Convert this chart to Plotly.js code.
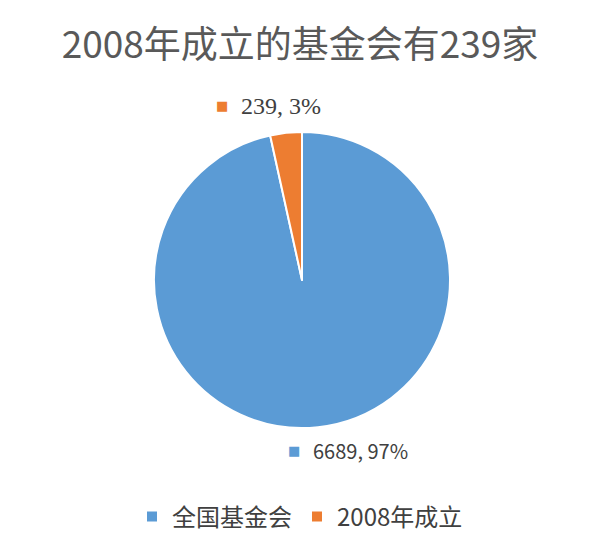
<!DOCTYPE html>
<html>
<head>
<meta charset="utf-8">
<script src="https://cdn.plot.ly/plotly-3.0.1.min.js"></script>
<style>
  html, body { margin: 0; padding: 0; background: #fff; }
  #chart { width: 600px; height: 547px; }
</style>
</head>
<body>
<div id="chart"></div>
<script>
// pie data
const categories = ['全国基金会', '2008年成立'];
const counts = [6689, 239];
const colors = ['#5B9BD5', '#ED7D31'];

const total = counts.reduce((a, b) => a + b, 0);
const labelText = counts.map(v => `${v}, ${Math.round(v / total * 100)}%`);

const trace = {
    type: 'pie',
    labels: categories,
    values: counts,
    sort: false,
    direction: 'clockwise',
    rotation: 0,
    textinfo: 'none',
    hoverinfo: 'label+value+percent',
    marker: {
        colors: colors,
        line: { color: '#ffffff', width: 2 }
    },
    domain: { x: [154 / 600, 450 / 600], y: [119 / 547, 415 / 547] }
};

// label annotation: little coloured square + text
function sliceLabel(i, xPx, yPx, font) {
    return [
        {
            text: '■',
            xref: 'paper', yref: 'paper',
            x: xPx / 600, y: 1 - yPx / 547,
            xanchor: 'center', yanchor: 'middle',
            showarrow: false,
            font: { size: 13, color: colors[i], family: 'DejaVu Sans' }
        },
        {
            text: labelText[i],
            xref: 'paper', yref: 'paper',
            x: (xPx + 17) / 600, y: 1 - yPx / 547,
            xanchor: 'left', yanchor: 'middle',
            showarrow: false,
            font: font
        }
    ];
}

const layout = {
    width: 600,
    height: 547,
    margin: { t: 0, r: 0, b: 0, l: 0 },
    paper_bgcolor: '#ffffff',
    font: { family: 'Noto Sans CJK SC', color: '#404040' },
    title: {
        text: '2008年成立的基金会有239家',
        font: { size: 37, color: '#595959', family: 'Noto Sans CJK SC' },
        x: 0.5, xanchor: 'center',
        y: 1 - 45 / 547, yanchor: 'middle'
    },
    showlegend: true,
    legend: {
        orientation: 'h',
        x: 0.5, xanchor: 'center',
        y: 30 / 547, yanchor: 'middle',
        font: { size: 24, color: '#404040' }
    },
    annotations: [
        ...sliceLabel(1, 222, 106, { size: 24, family: 'Times New Roman', color: '#404040' }),
        ...sliceLabel(0, 294, 450, { size: 20, family: 'Noto Sans CJK SC', color: '#404040' })
    ]
};

Plotly.newPlot('chart', [trace], layout, { displayModeBar: false, staticPlot: true });
</script>
</body>
</html>
